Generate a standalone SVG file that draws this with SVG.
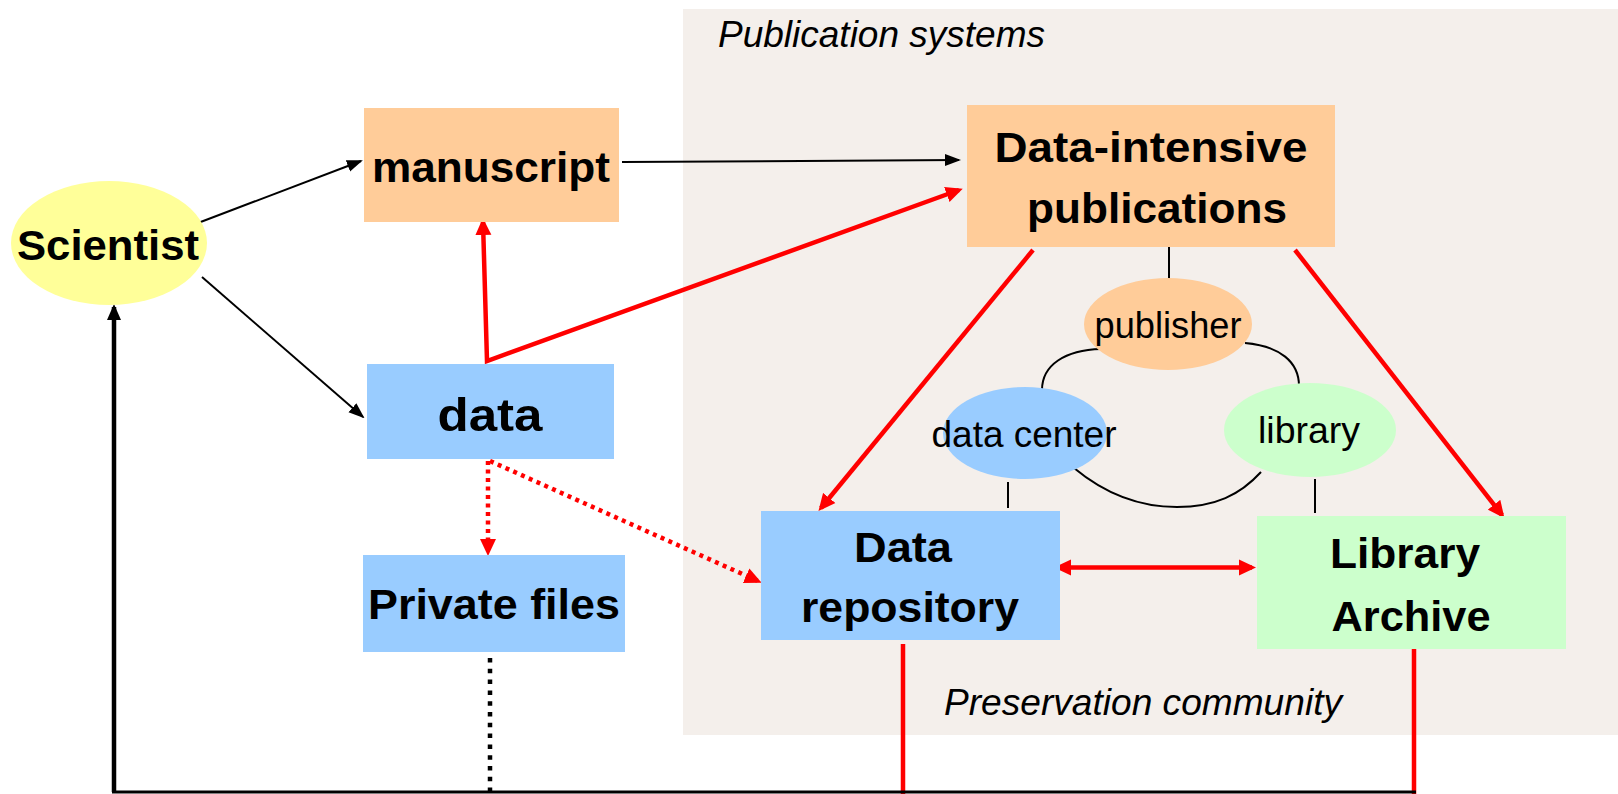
<svg xmlns="http://www.w3.org/2000/svg" width="1618" height="794" viewBox="0 0 1618 794">
<style>
.b{font-family:"Liberation Sans",Arial,sans-serif;font-weight:bold;font-size:42px;fill:#000;text-anchor:middle}
.r{font-family:"Liberation Sans",Arial,sans-serif;font-size:36px;fill:#000;text-anchor:middle}
.it{font-family:"Liberation Sans",Arial,sans-serif;font-style:italic;font-size:36px;fill:#000}
.thin{stroke:#000;stroke-width:2;fill:none}
.red{stroke:#FF0000;stroke-width:4.5;fill:none}
.reddot{stroke:#FF0000;stroke-width:4.5;fill:none;stroke-dasharray:4 4.5}
</style>
<defs>
<marker id="ak" markerUnits="userSpaceOnUse" markerWidth="16" markerHeight="14" refX="14" refY="7" orient="auto"><path d="M0,1 L16,7 L0,13 z" fill="#000"/></marker>
<marker id="akb" markerUnits="userSpaceOnUse" markerWidth="16" markerHeight="16" refX="13" refY="8" orient="auto"><path d="M0,1 L16,8 L0,15 z" fill="#000"/></marker>
<marker id="ar" markerUnits="userSpaceOnUse" markerWidth="17" markerHeight="17" refX="13" refY="8.5" orient="auto-start-reverse"><path d="M0,0.5 L17,8.5 L0,16.5 z" fill="#FF0000"/></marker>
</defs>
<rect id="panel" x="683" y="9" width="935" height="726" fill="#F4EFEB"/>
<text class="it" x="718" y="47" textLength="327" lengthAdjust="spacingAndGlyphs">Publication systems</text>
<text class="it" x="944" y="715" textLength="398" lengthAdjust="spacingAndGlyphs">Preservation community</text>

<g id="connectors">
<line class="thin" x1="198" y1="223" x2="361" y2="161" marker-end="url(#ak)"/>
<line class="thin" x1="202" y1="277" x2="363" y2="417" marker-end="url(#ak)"/>
<line class="thin" x1="622" y1="162" x2="959" y2="160" marker-end="url(#ak)"/>
<polyline class="red" points="483,222 487,361 959,190" marker-start="url(#ar)" marker-end="url(#ar)"/>
<line class="red" x1="1033" y1="250" x2="821" y2="508" marker-end="url(#ar)"/>
<line class="red" x1="1295" y1="250" x2="1502" y2="515" marker-end="url(#ar)"/>
<line class="red" x1="1058" y1="567.5" x2="1252" y2="567.5" marker-start="url(#ar)" marker-end="url(#ar)"/>
<line class="reddot" x1="488" y1="461" x2="488" y2="552" marker-end="url(#ar)"/>
<line class="reddot" x1="490" y1="461" x2="758" y2="581" marker-end="url(#ar)"/>
<line stroke="#000" stroke-width="4.5" stroke-dasharray="4.5 6.3" x1="490" y1="658" x2="490" y2="792"/>
<line class="red" x1="903" y1="644" x2="903" y2="794"/>
<line class="red" x1="1414" y1="643" x2="1414" y2="794"/>
<line stroke="#000" stroke-width="3" x1="112" y1="792" x2="1416" y2="792"/>
<line stroke="#000" stroke-width="4.5" x1="114" y1="792" x2="114" y2="307" marker-end="url(#akb)"/>
<line class="thin" x1="1169" y1="245" x2="1169" y2="279"/>
<line class="thin" x1="1008" y1="482" x2="1008" y2="508"/>
<line class="thin" x1="1315" y1="479" x2="1315" y2="513"/>
<path class="thin" d="M1101,349 C1065,350 1042,365 1042,390"/>
<path class="thin" d="M1245,343 C1280,346 1299,362 1299,386"/>
<path class="thin" d="M1074,468 C1110,498 1145,507 1177,507 C1215,507 1240,495 1261,472"/>
</g>

<g id="scientist">
<ellipse cx="109" cy="243" rx="98" ry="62" fill="#FFFF99"/>
<text class="b" x="108" y="260" textLength="182" lengthAdjust="spacingAndGlyphs">Scientist</text>
</g>
<g id="manuscript">
<rect x="364" y="108" width="255" height="114" fill="#FFCC99"/>
<text class="b" x="491" y="182" textLength="238" lengthAdjust="spacingAndGlyphs">manuscript</text>
</g>
<g id="dip">
<rect x="967" y="105" width="368" height="142" fill="#FFCC99"/>
<text class="b" x="1151" y="162" textLength="313" lengthAdjust="spacingAndGlyphs">Data-intensive</text>
<text class="b" x="1157" y="223" textLength="260" lengthAdjust="spacingAndGlyphs">publications</text>
</g>
<g id="data">
<rect x="367" y="364" width="247" height="95" fill="#99CCFF"/>
<text class="b" x="490" y="431" style="font-size:46px" textLength="105" lengthAdjust="spacingAndGlyphs">data</text>
</g>
<g id="private">
<rect x="363" y="555" width="262" height="97" fill="#99CCFF"/>
<text class="b" x="494" y="619" textLength="252" lengthAdjust="spacingAndGlyphs">Private files</text>
</g>
<g id="repository">
<rect x="761" y="511" width="299" height="129" fill="#99CCFF"/>
<text class="b" x="903" y="562" textLength="98" lengthAdjust="spacingAndGlyphs">Data</text>
<text class="b" x="910" y="622" textLength="218" lengthAdjust="spacingAndGlyphs">repository</text>
</g>
<g id="archive">
<rect x="1257" y="516" width="309" height="133" fill="#CCFFCC"/>
<text class="b" x="1405" y="568" textLength="150" lengthAdjust="spacingAndGlyphs">Library</text>
<text class="b" x="1411" y="631" textLength="159" lengthAdjust="spacingAndGlyphs">Archive</text>
</g>
<g id="publisher">
<ellipse cx="1168" cy="324" rx="84" ry="46" fill="#FFCC99"/>
<text class="r" x="1168" y="338" textLength="147" lengthAdjust="spacingAndGlyphs">publisher</text>
</g>
<g id="datacenter">
<ellipse cx="1025" cy="433" rx="82" ry="46" fill="#99CCFF"/>
<text class="r" x="1024" y="447" textLength="185" lengthAdjust="spacingAndGlyphs">data center</text>
</g>
<g id="library">
<ellipse cx="1310" cy="430" rx="86" ry="47" fill="#CCFFCC"/>
<text class="r" x="1309" y="443" textLength="102" lengthAdjust="spacingAndGlyphs">library</text>
</g>
</svg>
